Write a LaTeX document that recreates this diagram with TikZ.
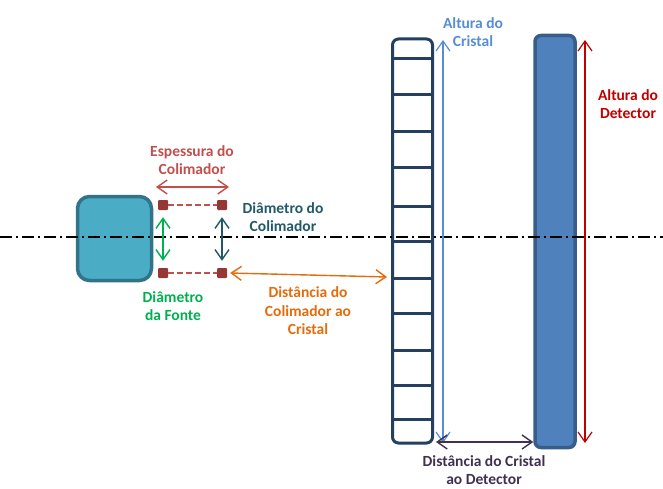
\documentclass[tikz,border=0pt]{standalone}
\usepackage{fontspec}
\setmainfont{Carlito}
\usetikzlibrary{arrows.meta}
\definecolor{srcfill}{HTML}{4BACC6}
\definecolor{srcline}{HTML}{31748A}
\definecolor{sqred}{HTML}{953735}
\definecolor{espred}{HTML}{C0504D}
\definecolor{fgreen}{HTML}{00B050}
\definecolor{colteal}{HTML}{215968}
\definecolor{dorange}{HTML}{E46C0A}
\definecolor{crline}{HTML}{243F60}
\definecolor{crblue}{HTML}{558ED5}
\definecolor{detfill}{HTML}{4F81BD}
\definecolor{detline}{HTML}{385D8A}
\definecolor{detred}{HTML}{C00000}
\definecolor{dpurple}{HTML}{403152}
\tikzset{
  x=1pt,y=-1pt,
  lbl/.style={font=\fontsize{15.5}{18.5}\selectfont\bfseries, align=center, inner sep=0pt},
  dim/.style={line width=1.4pt, {Straight Barb[length=10pt,width=14pt]}-{Straight Barb[length=10pt,width=14pt]}},
  sq/.style={fill=sqred, minimum size=10pt, inner sep=0pt, rounded corners=1pt},
}
\begin{document}
\begin{tikzpicture}
\useasboundingbox (0,0) rectangle (663,489);
% source
\node[draw=srcline, fill=srcfill, line width=3.5pt, rounded corners=12pt, minimum width=74pt, minimum height=84pt, inner sep=0pt] (src) at (114.5,238.5) {};
% collimator squares
\node[sq] (tl) at (163,205) {};
\node[sq] (tr) at (222,205) {};
\node[sq] (bl) at (163,273) {};
\node[sq] (br) at (222,273) {};
\draw[espred, line width=2.2pt, dash pattern=on 6pt off 3pt] (tl) -- (tr);
\draw[espred, line width=2.2pt, dash pattern=on 6pt off 3pt] (bl) -- (br);
% crystal
\node[draw=crline, fill=white, line width=3pt, rounded corners=6pt, minimum width=40pt, minimum height=404pt, inner sep=0pt] (cr) at (412.5,241) {};
\foreach \yy in {59,95,132,168,206,241,278,313,350,385,419}
  \draw[crline, line width=3pt] (cr.west |- 0,\yy) -- (cr.east |- 0,\yy);
% detector
\node[draw=detline, fill=detfill, line width=3.5pt, rounded corners=6pt, minimum width=40pt, minimum height=412pt, inner sep=0pt] (det) at (555,241.5) {};
% axis
\coordinate (axl) at (0,237);
\coordinate (axr) at (663,237);
\draw[black, line width=1.5pt, dash pattern=on 12pt off 4pt on 2pt off 4pt] (axl) -- (axr);
% dimension arrows
\coordinate (espL) at (156,187);
\coordinate (espR) at (229,187);
\draw[dim, espred] (espL) -- (espR);
\node[lbl, text=espred] (esp) at (192,160) {Espessura do\\Colimador};
\draw[dim, fgreen] ([yshift=-7pt]tl.south) -- ([yshift=7pt]bl.north);
\node[lbl, text=fgreen] (fonte) at (173,306) {Diâmetro\\da Fonte};
\draw[dim, colteal] ([yshift=-7pt]tr.south) -- ([yshift=7pt]br.north);
\node[lbl, text=colteal] (coltxt) at (283,217) {Diâmetro do\\Colimador};
\coordinate (crhit) at (387,277);
\draw[dim, dorange] ([xshift=3pt]br.east) -- (crhit);
\node[lbl, text=dorange] (dist1) at (308,311) {Distância do\\Colimador ao\\Cristal};
\coordinate (cat) at (443,40);
\coordinate (cab) at (443,443);
\draw[dim, crblue, line width=1.2pt] (cat) -- (cab);
\node[lbl, text=crblue] (crtxt) at (473,32) {Altura do\\Cristal};
\coordinate (dat) at (585,40);
\coordinate (dab) at (585,443);
\draw[dim, detred, line width=1.2pt] (dat) -- (dab);
\node[lbl, text=detred] (dettxt) at (628,104) {Altura do\\Detector};
\coordinate (dcl) at (436,442);
\draw[dim, dpurple] (dcl) -- (det.west |- dcl);
\node[lbl, text=dpurple] (dist2) at (484,470) {Distância do Cristal\\ao Detector};
\end{tikzpicture}
\end{document}
